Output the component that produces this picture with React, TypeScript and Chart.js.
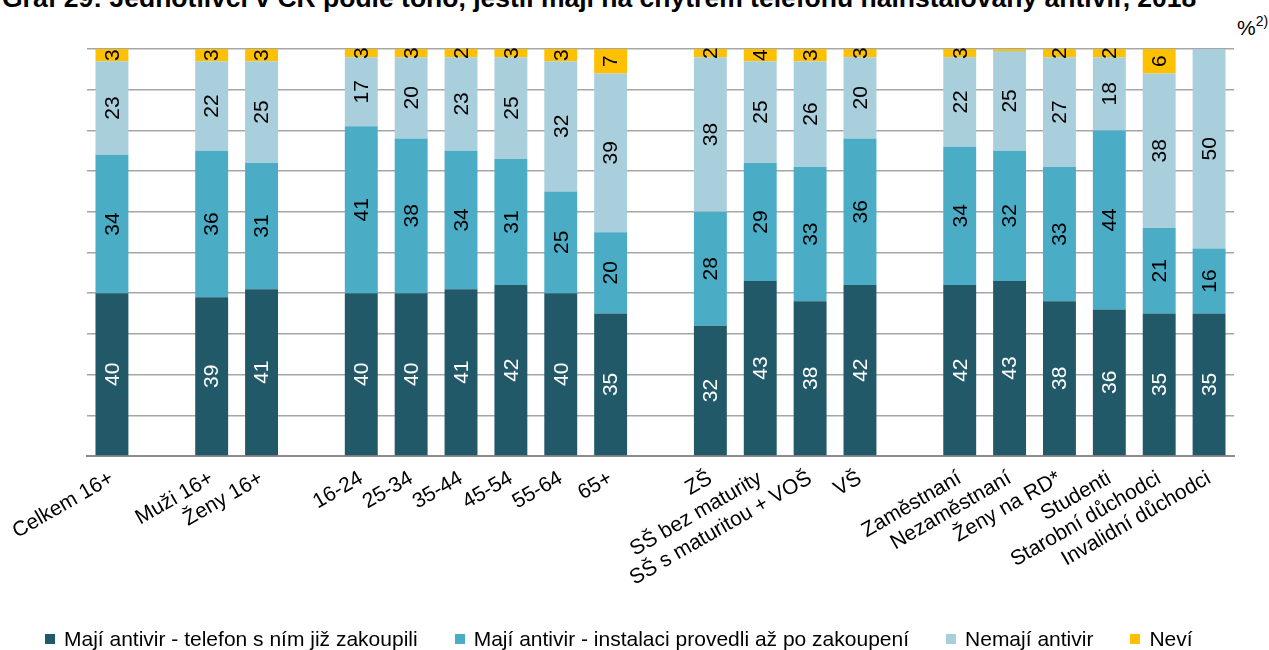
import React, { useEffect, useRef } from "react";
import { Chart, registerables } from "chart.js";

Chart.register(...registerables);

const titleText =
  "Graf 29: Jednotlivci v ČR podle toho, jestli mají na chytrém telefonu nainstalovaný antivir, 2018";

const categories = [
  "Celkem 16+", "",
  "Muži 16+", "Ženy 16+", "",
  "16-24", "25-34", "35-44", "45-54", "55-64", "65+", "",
  "ZŠ", "SŠ bez maturity", "SŠ s maturitou + VOŠ", "VŠ", "",
  "Zaměstnaní", "Nezaměstnaní", "Ženy na RD*", "Studenti", "Starobní důchodci", "Invalidní důchodci",
];

const seriesNames = [
  "Mají antivir - telefon s ním již zakoupili",
  "Mají antivir - instalaci provedli až po zakoupení",
  "Nemají antivir",
  "Neví",
];

const seriesColors = ["#215968", "#4bacc6", "#a9cfdd", "#ffc000"];
const labelColors = ["#ffffff", "#000000", "#000000", "#000000"];

const boughtWith = [40, null, 39, 41, null, 40, 40, 41, 42, 40, 35, null, 32, 43, 38, 42, null, 42, 43, 38, 36, 35, 35];
const installedAfter = [34, null, 36, 31, null, 41, 38, 34, 31, 25, 20, null, 28, 29, 33, 36, null, 34, 32, 33, 44, 21, 16];
const noAntivirus = [23, null, 22, 25, null, 17, 20, 23, 25, 32, 39, null, 38, 25, 26, 20, null, 22, 24.5, 27, 18, 38, 50];
const dontKnow = [3, null, 3, 3, null, 3, 3, 2, 3, 3, 7, null, 2, 4, 3, 3, null, 3, 0.5, 2, 2, 6, 0];

const seriesValues = [boughtWith, installedAfter, noAntivirus, dontKnow];

const FONT = "'Liberation Sans', Arial, sans-serif";

const valueLabels = {
  id: "valueLabels",
  afterDatasetsDraw(chart: any) {
    const ctx = chart.ctx;
    const area = chart.chartArea;
    ctx.save();
    ctx.font = `21px ${FONT}`;
    ctx.textAlign = "center";
    ctx.textBaseline = "middle";
    chart.data.datasets.forEach((ds: any, i: number) => {
      const meta = chart.getDatasetMeta(i);
      meta.data.forEach((bar: any, j: number) => {
        const v = ds.data[j];
        if (v == null || v < 1) return;
        const { x, y, base } = bar.getProps(["x", "y", "base"], true);
        const top = Math.max(Math.min(y, base), area.top);
        const bottom = Math.min(Math.max(y, base), area.bottom);
        const cy = (top + bottom) / 2;
        ctx.save();
        ctx.translate(x, cy);
        ctx.rotate(-Math.PI / 2);
        ctx.fillStyle = labelColors[i];
        ctx.fillText(String(Math.round(v)), 0, 1);
        ctx.restore();
      });
    });
    ctx.restore();
  },
};

export default function App() {
  const canvasRef = useRef<HTMLCanvasElement | null>(null);

  useEffect(() => {
    document.body.style.margin = "0";
    const canvas = canvasRef.current;
    if (!canvas) return;
    const chart = new Chart(canvas, {
      type: "bar",
      data: {
        labels: categories,
        datasets: seriesNames.map((name, i) => ({
          label: name,
          data: seriesValues[i] as any,
          backgroundColor: seriesColors[i],
          borderWidth: 0,
          barPercentage: 0.66,
          categoryPercentage: 1,
          clip: 0,
        })),
      },
      options: {
        animation: false,
        responsive: false,
        maintainAspectRatio: false,
        layout: { padding: { left: 87, right: 35, top: 49, bottom: 0 } },
        plugins: {
          legend: { display: false },
          tooltip: { enabled: false },
          title: { display: false },
        },
        scales: {
          x: {
            stacked: true,
            offset: true,
            grid: { display: false, drawTicks: false },
            border: { display: true, color: "#8c8c8c", width: 2 },
            ticks: {
              autoSkip: false,
              maxRotation: 30,
              minRotation: 30,
              color: "#000000",
              padding: 10,
              font: { family: FONT, size: 21 },
            },
            afterFit: (s: any) => {
              s.height = 194;
              s.paddingLeft = 0;
              s.paddingRight = 0;
            },
          },
          y: {
            stacked: true,
            min: 0,
            max: 100,
            ticks: { display: false, stepSize: 10 },
            grid: { color: "#a6a6a6", lineWidth: 1.5, drawTicks: false },
            border: { display: false },
            afterFit: (s: any) => {
              s.width = 0;
            },
          },
        },
      },
      plugins: [valueLabels],
    });
    return () => chart.destroy();
  }, []);

  return (
    <div style={{ position: "relative", width: 1269, height: 650, overflow: "hidden", background: "#fff", fontFamily: FONT }}>
      <div
        style={{
          position: "absolute",
          left: 2,
          top: -15,
          fontSize: 26.5,
          lineHeight: "27px",
          fontWeight: "bold",
          whiteSpace: "nowrap",
          color: "#000",
        }}
      >
        {titleText}
      </div>
      <div style={{ position: "absolute", left: 1237, top: 16, fontSize: 21, lineHeight: "24px", color: "#000", whiteSpace: "nowrap" }}>
        %<span style={{ fontSize: 14, position: "relative", top: -9 }}>2)</span>
      </div>
      <canvas ref={canvasRef} width={1269} height={650} style={{ position: "absolute", left: 0, top: 0 }} />
      <div
        style={{
          position: "absolute",
          left: 45,
          top: 627,
          display: "flex",
          alignItems: "center",
          fontSize: 21,
          lineHeight: "24px",
          whiteSpace: "nowrap",
          color: "#000",
        }}
      >
        {seriesNames.map((name, i) => (
          <div key={name} style={{ display: "flex", alignItems: "center", marginRight: 37 }}>
            <span style={{ display: "inline-block", width: 10, height: 10, background: seriesColors[i], marginRight: 9 }} />
            <span>{name}</span>
          </div>
        ))}
      </div>
    </div>
  );
}
